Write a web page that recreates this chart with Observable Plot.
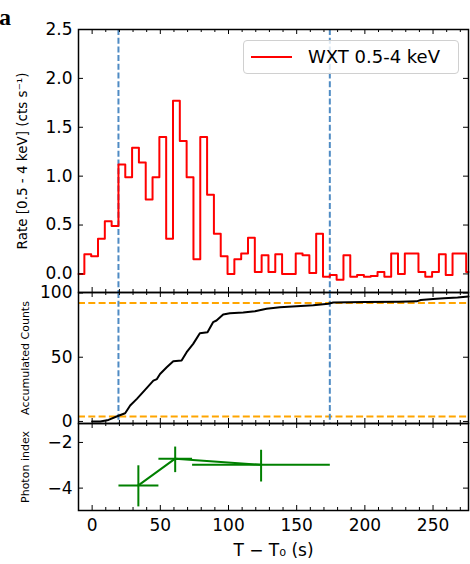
<!DOCTYPE html>
<html><head><meta charset="utf-8">
<script src="https://cdn.jsdelivr.net/npm/d3@7"></script>
<script src="https://cdn.jsdelivr.net/npm/@observablehq/plot@0.6"></script>
<style>
body{margin:0;background:#fff;}
#wrap{position:relative;width:470px;height:564px;overflow:hidden;font-family:"DejaVu Sans";}
#wrap svg{display:block;overflow:visible;}
#panelA{position:absolute;left:-1px;top:5px;font-family:"Liberation Serif",serif;font-weight:bold;font-size:24px;line-height:24px;}
#legend{position:absolute;left:243px;top:40px;width:216px;height:34px;box-sizing:border-box;border:1px solid #d0d0d0;border-radius:4px;background:rgba(255,255,255,0.8);}
#legend .sw{position:absolute;left:7px;top:15px;width:41px;height:2px;background:#ff0000;}
#legend .lt{position:absolute;left:64px;top:0;height:32px;line-height:32px;font-size:18px;color:#000;white-space:nowrap;}
</style></head><body><div id="wrap"></div>
<script>
// ---------- data ----------
const legendLabel = "WXT 0.5-4 keV";
const yLabelRate = "Rate [0.5 - 4 keV] (cts s\u207B\u00B9)";
const yLabelCum = "Accumulated Counts";
const yLabelIdx = "Photon index";
const xLabel = "T \u2212 T\u2080 (s)";

const xMajor = [0, 50, 100, 150, 200, 250];
const xMinor = [10, 20, 30, 40, 60, 70, 80, 90, 110, 120, 130, 140, 160, 170, 180, 190, 210, 220, 230, 240, 260, 270];
const rateTicks = [0, 0.5, 1.0, 1.5, 2.0, 2.5];
const cumTicks = [0, 50, 100];
const idxTicks = [-2, -4];

// light curve: bin start times (s) and rates (cts/s)
const rateT = [-10, -5.7, -0.7, 4.3, 9.3, 14.3, 19.3, 24.3, 29.3, 34.3, 39.3, 44.3, 49.3, 54.3, 59.3, 64.3,
  69.3, 74.3, 79.3, 84.3, 89.3, 94.3, 99.3, 104.3, 109.3, 114.3, 119.3, 124.3, 129.3, 134.3, 139.3, 144.3,
  149.3, 154.3, 159.3, 164.3, 169.3, 174.3, 179.3, 184.3, 189.3, 194.3, 199.3, 204.3, 209.3, 214.3, 219.3,
  224.3, 229.3, 234.3, 239.3, 244.3, 249.3, 254.3, 259.3, 264.3, 269.3, 274.3, 276];
const rateV = [0.00, 0.20, 0.18, 0.36, 0.54, 0.49, 1.12, 0.99, 1.29, 1.14, 0.76, 0.99, 1.40, 0.36, 1.77, 1.36,
  0.99, 0.15, 1.40, 0.81, 0.41, 0.18, 0.00, 0.15, 0.21, 0.37, 0.02, 0.19, 0.02, 0.20, 0.00, 0.00,
  0.21, 0.19, 0.01, 0.41, -0.03, -0.01, -0.06, 0.19, -0.03, -0.01, -0.03, -0.02, 0.02, -0.03, 0.21,
  0.00, 0.21, 0.21, 0.02, -0.03, 0.02, 0.20, -0.01, 0.21, 0.21, 0.02, 0.02];

// T5 / T95 interval markers
const tBounds = [19.3, 174.3];
const cumBounds = [3.9, 92.2];

// accumulated counts
const cumT = [0, 6, 12, 19.3, 24.2, 27.9, 32.8, 38.8, 44.9, 47.5, 49.8, 54.7, 59.5, 65.6, 69.3, 74.1, 79, 84.6,
  88.7, 91.2, 96.1, 101, 110.8, 119.4, 127.9, 137.7, 150, 162.2, 173.2, 176.8, 200, 225, 238, 241, 250, 258, 268, 276];
const cumN = [0, 0, 1.2, 4.4, 6.4, 12.4, 17.6, 24.6, 31.8, 33, 37, 42.2, 46.9, 47.4, 53.9, 60.4, 68.7, 69.5,
  77.3, 78.6, 83.3, 84.3, 84.8, 85.8, 87.7, 88.9, 89.7, 90.5, 91.6, 92.6, 93, 93.2, 93.5, 94.5, 95.3, 96, 96.5, 97.3];

// photon index with errors
const idxT = [33.9, 60.9, 123.9];
const idxTlo = [19.3, 48.6, 73.3];
const idxThi = [48.6, 73.3, 174.3];
const idxV = [-3.88, -2.71, -2.98];
const idxLo = [-4.80, -3.30, -3.71];
const idxHi = [-3.00, -2.18, -2.32];

// ---------- layout ----------
const W = 470, ML = 78, MR = 2;
const FONT = "DejaVu Sans";
const xDomain = [-10, 276];
const BLUE = "#4f8bc4", ORANGE = "#ffa500", GREEN = "#008000";

const rateData = rateT.map((t, i) => ({t, v: rateV[i]}));
const cumData = cumT.map((t, i) => ({t, v: cumN[i]}));
const idxData = idxT.map((t, i) => ({t, v: idxV[i], t1: idxTlo[i], t2: idxThi[i], v1: idxLo[i], v2: idxHi[i]}));

function boxTicks(fh, yMajor) {
  const fw = W - ML - MR;
  return [
    Plot.tickX(xMajor, {x: d => d, insetTop: fh - 5, strokeWidth: 1}),
    Plot.tickX(xMajor, {x: d => d, insetBottom: fh - 5, strokeWidth: 1}),
    Plot.tickX(xMinor, {x: d => d, insetTop: fh - 3, strokeWidth: 1}),
    Plot.tickX(xMinor, {x: d => d, insetBottom: fh - 3, strokeWidth: 1}),
    Plot.tickY(yMajor, {y: d => d, insetRight: fw - 5, strokeWidth: 1}),
    Plot.tickY(yMajor, {y: d => d, insetLeft: fw - 5, strokeWidth: 1}),
    Plot.frame({stroke: "black", strokeWidth: 1.5})
  ];
}
const baseStyle = {fontFamily: FONT, fontSize: "17px", background: "transparent", overflow: "visible", color: "black"};

const wrap = document.getElementById("wrap");

// top panel
const H1 = 292, MT1 = 29;
wrap.appendChild(Plot.plot({
  width: W, height: H1, marginTop: MT1, marginBottom: 0, marginLeft: ML, marginRight: MR,
  style: baseStyle,
  x: {domain: xDomain, axis: null},
  y: {domain: [-0.19, 2.5], ticks: rateTicks, tickSize: 0, tickPadding: 6, tickFormat: d3.format(".1f"), label: null},
  marks: [
    Plot.ruleX(tBounds, {x: d => d, stroke: BLUE, strokeWidth: 2, strokeDasharray: "6,2.7"}),
    Plot.line(rateData, {x: "t", y: "v", curve: "step-after", stroke: "#ff0000", strokeWidth: 2}),
    ...boxTicks(H1 - MT1, rateTicks),
    Plot.text([yLabelRate], {text: d => d, frameAnchor: "left", textAnchor: "middle", rotate: -90, dx: -56, fontSize: 13.5})
  ]
}));

// middle panel
const H2 = 131;
wrap.appendChild(Plot.plot({
  width: W, height: H2, marginTop: 0, marginBottom: 0, marginLeft: ML, marginRight: MR,
  style: baseStyle,
  x: {domain: xDomain, axis: null},
  y: {domain: [-1.6, 100.4], ticks: cumTicks, tickSize: 0, tickPadding: 6, tickFormat: d3.format("d"), label: null},
  marks: [
    Plot.ruleY(cumBounds, {y: d => d, stroke: ORANGE, strokeWidth: 2, strokeDasharray: "7,3.3"}),
    Plot.ruleX(tBounds, {x: d => d, stroke: BLUE, strokeWidth: 2, strokeDasharray: "6,2.7"}),
    Plot.line(cumData, {x: "t", y: "v", stroke: "black", strokeWidth: 2}),
    ...boxTicks(H2, cumTicks),
    Plot.text([yLabelCum], {text: d => d, frameAnchor: "left", textAnchor: "middle", rotate: -90, dx: -53, fontSize: 11})
  ]
}));

// bottom panel
const H3 = 141, MB3 = 54;
wrap.appendChild(Plot.plot({
  width: W, height: H3, marginTop: 0, marginBottom: MB3, marginLeft: ML, marginRight: MR,
  style: baseStyle,
  x: {domain: xDomain, ticks: xMajor, tickSize: 0, tickPadding: 8.5, tickFormat: d3.format("d"), label: null},
  y: {domain: [-4.98, -1.17], ticks: idxTicks, tickSize: 0, tickPadding: 6, tickFormat: d3.format("d"), label: null},
  marks: [
    Plot.line(idxData, {x: "t", y: "v", stroke: GREEN, strokeWidth: 2}),
    Plot.link(idxData, {x1: "t1", x2: "t2", y1: "v", y2: "v", stroke: GREEN, strokeWidth: 2}),
    Plot.link(idxData, {x1: "t", x2: "t", y1: "v1", y2: "v2", stroke: GREEN, strokeWidth: 2}),
    ...boxTicks(H3 - MB3, idxTicks),
    Plot.text([yLabelIdx], {text: d => d, frameAnchor: "left", textAnchor: "middle", rotate: -90, dx: -53, fontSize: 11}),
    Plot.text([xLabel], {text: d => d, frameAnchor: "bottom", dy: 45, fontSize: 17})
  ]
}));

// panel letter and legend
const a = document.createElement("div");
a.id = "panelA"; a.textContent = "a";
wrap.appendChild(a);
const lg = document.createElement("div");
lg.id = "legend";
lg.innerHTML = '<div class="sw"></div><div class="lt"></div>';
lg.querySelector(".lt").textContent = legendLabel;
wrap.appendChild(lg);
</script></body></html>
